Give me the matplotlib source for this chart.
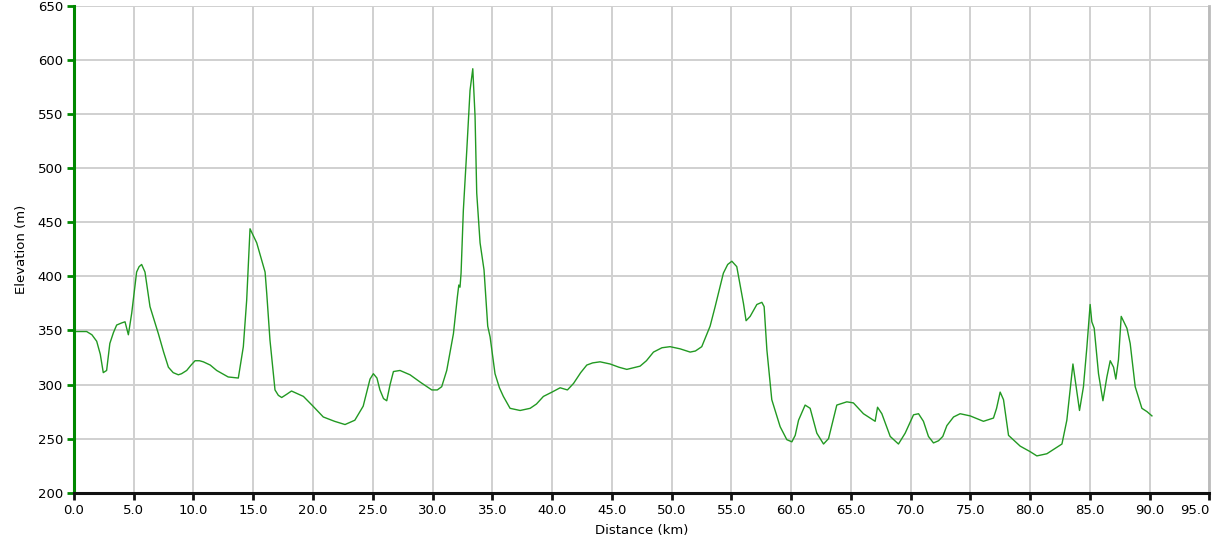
import matplotlib.pyplot as plt
import numpy as np

# distance (km) and elevation (m)
dist = [0.0, 0.5, 1.06, 1.5, 1.9, 2.2, 2.45, 2.73, 3.0, 3.3, 3.57, 4.0, 4.27, 4.55,
        4.83, 5.24, 5.45, 5.66, 5.94, 6.36, 7.06, 7.5, 7.9, 8.3, 8.73, 9.0, 9.43,
        9.8, 10.13, 10.5, 10.82, 11.4, 11.94, 12.9, 13.75, 14.17, 14.45, 14.73,
        15.29, 15.99, 16.13, 16.4, 16.82, 17.1, 17.38, 17.8, 18.2, 19.2, 20.0,
        20.86, 21.8, 22.68, 23.5, 24.2, 24.5, 24.77, 25.05, 25.35, 25.6, 25.9,
        26.17, 26.45, 26.73, 27.28, 28.12, 29.0, 29.94, 30.4, 30.77, 31.19, 31.75,
        32.08, 32.2, 32.3, 32.39, 32.58, 32.87, 33.14, 33.37, 33.56, 33.7, 33.98,
        34.31, 34.62, 34.82, 35.23, 35.6, 35.93, 36.49, 37.33, 38.17, 38.7, 39.28,
        40.0, 40.68, 41.29, 41.8, 42.4, 42.91, 43.4, 44.02, 44.86, 45.6, 46.26,
        47.37, 47.9, 48.49, 49.2, 49.88, 50.72, 51.56, 52.0, 52.53, 53.23, 53.65,
        54.34, 54.7, 55.05, 55.46, 56.02, 56.24, 56.58, 57.14, 57.56, 57.75, 57.98,
        58.39, 59.09, 59.65, 60.07, 60.35, 60.63, 61.18, 61.6, 62.16, 62.72, 63.14,
        63.5, 63.83, 64.67, 65.22, 66.06, 67.04, 67.24, 67.6, 68.3, 68.99, 69.55,
        70.25, 70.67, 71.08, 71.5, 71.92, 72.34, 72.7, 73.04, 73.6, 74.15, 74.99,
        76.1, 76.94, 77.2, 77.5, 77.78, 78.2, 79.18, 80.0, 80.57, 81.41, 82.67,
        83.08, 83.35, 83.59, 83.78, 84.14, 84.47, 84.76, 85.03, 85.17, 85.37,
        85.73, 86.1, 86.43, 86.71, 86.99, 87.18, 87.4, 87.63, 88.11, 88.38, 88.8,
        89.36, 89.78, 90.2]
elev = [349, 349, 349, 346, 340, 328, 311, 313, 338, 348, 355, 357, 358, 346,
        366, 404, 409, 411, 404, 372, 347, 330, 316, 311, 309, 310, 313,
        318, 322, 322, 321, 318, 313, 307, 306, 335, 378, 444,
        431, 404, 384, 341, 295, 290, 288, 291, 294, 289, 280,
        270, 266, 263, 267, 280, 293, 305, 310, 306, 295, 287,
        285, 300, 312, 313, 309, 302, 295, 295, 298, 313, 347,
        381, 392, 390, 403, 461, 517, 572, 592, 548, 477, 431,
        406, 354, 344, 310, 297, 289, 278, 276, 278, 282, 289,
        293, 297, 295, 301, 311, 318, 320, 321, 319, 316, 314,
        317, 322, 330, 334, 335, 333, 330, 331, 335, 354, 372,
        403, 411, 414, 409, 375, 359, 363, 374, 376, 372, 332,
        286, 261, 249, 247, 253, 267, 281, 278, 255, 245, 250,
        266, 281, 284, 283, 273, 266, 279, 273, 252, 245, 255,
        272, 273, 266, 252, 246, 248, 252, 262, 270, 273, 271,
        266, 269, 278, 293, 286, 253, 243, 238, 234, 236, 245,
        267, 295, 319, 304, 276, 298, 335, 374, 358, 352,
        310, 285, 307, 322, 316, 305, 323, 363, 352, 338, 298,
        278, 275, 271]

xticks = np.arange(0, 96, 5)
yticks = np.arange(200, 651, 50)

fig = plt.figure(figsize=(12.15, 5.45), dpi=100)
ax = fig.add_axes([0.0609, 0.096, 0.9344, 0.893])

ax.plot(dist, elev, color='#229922', lw=1.0)

ax.set_xlim(0, 95)
ax.set_ylim(200, 650)
ax.set_xticks(xticks)
ax.set_yticks(yticks)
ax.set_xticklabels(['%.1f' % v for v in xticks])
ax.grid(True, color='#d0d0d0', lw=1.4)
ax.set_axisbelow(True)

ax.spines['top'].set_visible(False)
ax.spines['right'].set_color('#bbbbbb')
ax.spines['right'].set_linewidth(2)
ax.spines['left'].set_color('#008800')
ax.spines['left'].set_linewidth(2.2)
ax.spines['bottom'].set_color('#111111')
ax.spines['bottom'].set_linewidth(2.2)

ax.tick_params(axis='y', colors='#008800', length=5, width=2, pad=3, labelcolor='black', labelsize=9.5)
ax.tick_params(axis='x', colors='#111111', length=5, width=2, pad=3, labelcolor='black', labelsize=9.5)
ax.get_xticklabels()[-1].set_horizontalalignment('right')

ax.set_xlabel('Distance (km)', fontsize=9.5, labelpad=5)
ax.set_ylabel('Elevation (m)', fontsize=9.5, labelpad=7)

fig.savefig('out.png', dpi=100)
